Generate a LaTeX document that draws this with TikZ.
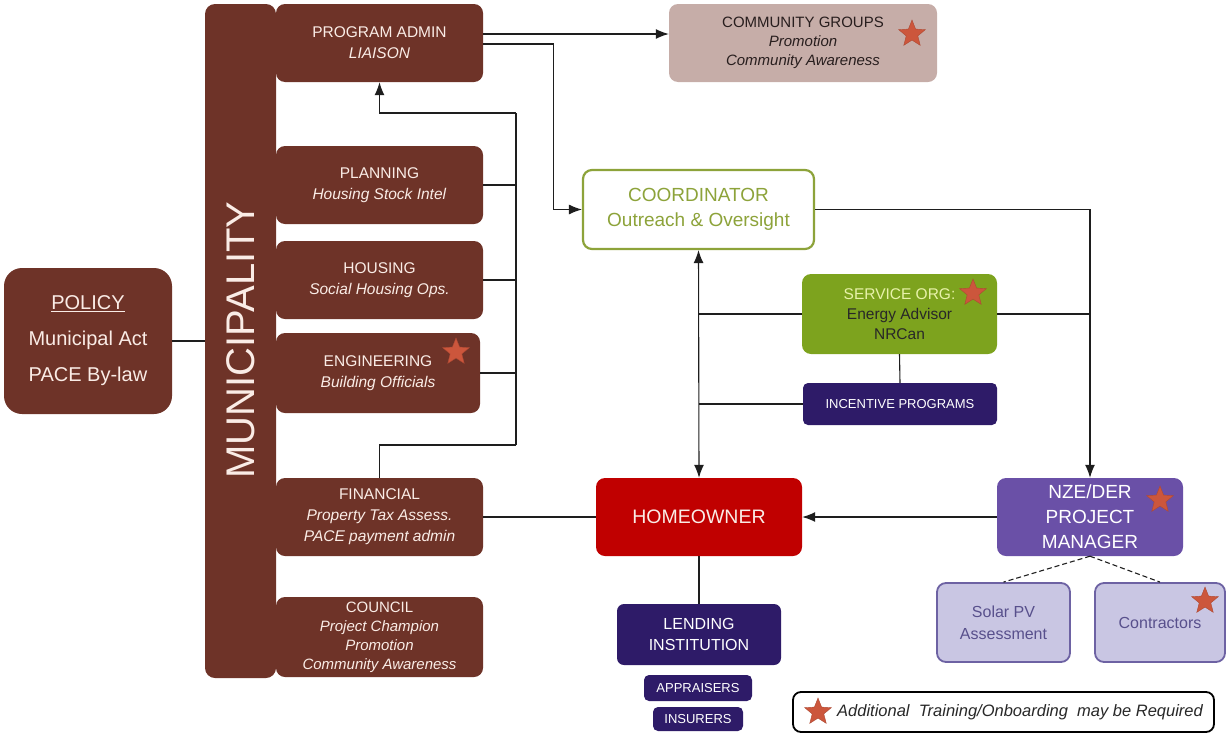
\documentclass[tikz,border=0pt]{standalone}
\usepackage{fontspec}
\setmainfont{Liberation Sans}
\usetikzlibrary{shapes.geometric,arrows.meta,calc}
\definecolor{brownc}{RGB}{110,51,40}
\definecolor{boxtext}{RGB}{250,236,230}
\definecolor{commc}{RGB}{198,173,168}
\definecolor{commtext}{RGB}{40,30,30}
\definecolor{coordc}{RGB}{141,163,58}
\definecolor{servc}{RGB}{125,163,30}
\definecolor{servhead}{RGB}{232,242,170}
\definecolor{indigoc}{RGB}{46,27,104}
\definecolor{homec}{RGB}{192,0,0}
\definecolor{nzec}{RGB}{106,80,167}
\definecolor{lavc}{RGB}{201,198,227}
\definecolor{lavborder}{RGB}{109,98,163}
\definecolor{lavtext}{RGB}{88,80,140}
\definecolor{starc}{RGB}{204,86,60}
\definecolor{linec}{RGB}{30,30,30}
\definecolor{legtext}{RGB}{40,40,40}
\begin{document}
\begin{tikzpicture}[x=1pt,y=-1pt,
  box/.style={rounded corners=9pt, inner sep=0pt, align=center},
  brownbox/.style={box, fill=brownc, text=boxtext, minimum width=207pt, minimum height=78pt, font=\fontsize{15.5}{21}\selectfont},
  darkbox/.style={box, fill=indigoc, text=white, rounded corners=5pt},
  lavbox/.style={box, fill=lavc, draw=lavborder, line width=1.8pt, text=lavtext, minimum width=133pt, minimum height=79pt, font=\fontsize{16}{22}\selectfont},
  conn/.style={draw=linec, line width=1.1pt},
  arr/.style={conn, -{Latex[length=13pt,width=10pt]}},
  dbl/.style={conn, {Latex[length=13pt,width=10pt]}-{Latex[length=13pt,width=10pt]}},
  starmark/.style={star, star points=5, star point ratio=2.3, fill=starc, draw=starc!85!black, line width=0.4pt, minimum size=28pt, inner sep=0pt}
]
\useasboundingbox (0,0) rectangle (1226,734);

% Municipality column
\node[box, fill=brownc, minimum width=71pt, minimum height=674pt, rounded corners=10pt] (muni) at (240.5,341) {};
\node[text=boxtext, rotate=90, font=\fontsize{40}{40}\selectfont] (munitxt) at (240.5,340) {MUNICIPALITY};

% Policy
\node[box, fill=brownc, text=boxtext, minimum width=168pt, minimum height=146pt, rounded corners=18pt, font=\fontsize{20}{36}\selectfont] (policy) at (88,341) {\underline{POLICY}\\Municipal Act\\PACE By-law};

% Municipal departments
\node[brownbox] (padmin) at (379.5,43) {PROGRAM ADMIN\\\textit{LIAISON}};
\node[brownbox] (planning) at (379.5,185) {PLANNING\\\textit{Housing Stock Intel}};
\node[brownbox] (housing) at (379.5,280) {HOUSING\\\textit{Social Housing Ops.}};
\node[brownbox, minimum width=204pt, minimum height=80pt] (engineering) at (378,373) {ENGINEERING\\\textit{Building Officials}};
\node[brownbox] (financial) at (379.5,517) {FINANCIAL\\\textit{Property Tax Assess.}\\\textit{PACE payment admin}};
\node[brownbox, minimum height=80pt, font=\fontsize{15}{19}\selectfont] (council) at (379.5,637) {COUNCIL\\\textit{Project Champion}\\\textit{Promotion}\\\textit{Community Awareness}};

% Community groups
\node[box, fill=commc, text=commtext, minimum width=268pt, minimum height=78pt, font=\fontsize{15}{19}\selectfont] (community) at (803,43) {COMMUNITY GROUPS\\\textit{Promotion}\\\textit{Community Awareness}};

% Coordinator
\node[box, fill=white, draw=coordc, line width=2.2pt, text=coordc, minimum width=231pt, minimum height=79pt, font=\fontsize{19}{25}\selectfont] (coord) at (698.5,209.5) {COORDINATOR\\Outreach \& Oversight};

% Service org and incentive
\node[box, fill=servc, text=legtext, minimum width=195pt, minimum height=80pt, font=\fontsize{15.5}{20}\selectfont] (service) at (899.5,314) {\textcolor{servhead}{SERVICE ORG:}\\Energy Advisor\\NRCan};
\node[darkbox, minimum width=194pt, minimum height=42pt, font=\fontsize{13}{15}\selectfont] (incentive) at (900,404) {INCENTIVE PROGRAMS};

% Homeowner, NZE
\node[box, fill=homec, text=boxtext, minimum width=206pt, minimum height=78pt, font=\fontsize{19.5}{24}\selectfont] (homeowner) at (699,517) {HOMEOWNER};
\node[box, fill=nzec, text=white, minimum width=186pt, minimum height=78pt, font=\fontsize{19}{25}\selectfont] (nze) at (1090,517) {NZE/DER\\PROJECT\\MANAGER};

% Lending
\node[darkbox, minimum width=164pt, minimum height=61pt, rounded corners=7pt, font=\fontsize{16}{21}\selectfont] (lending) at (699,634.5) {LENDING\\INSTITUTION};
\node[darkbox, minimum width=108pt, minimum height=26pt, font=\fontsize{13}{15}\selectfont] (appraisers) at (698,688) {APPRAISERS};
\node[darkbox, minimum width=90pt, minimum height=24pt, font=\fontsize{13}{15}\selectfont] (insurers) at (698,719) {INSURERS};

% Solar / Contractors
\node[lavbox] (solar) at (1003.5,622.5) {Solar PV\\Assessment};
\node[lavbox, minimum width=130pt] (contractors) at (1160,622.5) {Contractors};

% Legend
\node[box, draw=black, line width=1.8pt, rounded corners=8pt, fill=white, minimum width=421pt, minimum height=40pt] (legend) at (1003.5,712) {};
\node[anchor=west, inner sep=0pt, text=legtext, font=\fontsize{16.5}{18}\selectfont\itshape] (legtxt) at (837,712) {Additional\ \ Training/Onboarding\ \ may be Required};

% Connectors
\draw[arr] ([yshift=9pt]padmin.east) -- ([yshift=9pt]community.west);
\draw[arr] ([yshift=-1pt]padmin.east) -- ++(70,0) |- (coord.west);
\draw[arr] (coord.east) -| (nze.north);
\draw[dbl] (coord.south) -- (homeowner.north);
\draw[conn] (service.west) -- (coord.south |- service.west);
\draw[conn] (incentive.west) -- (coord.south |- incentive.west);
\draw[conn] (service.east) -- (nze.north |- service.east);
\draw[conn] (service.south) -- (incentive.north);
\draw[arr] (nze.west) -- (homeowner.east);
\draw[conn] (homeowner.west) -- (financial.east);
\draw[conn] (homeowner.south) -- (lending.north);
\draw[conn, dash pattern=on 5pt off 3pt] (nze.south) -- (solar.north);
\draw[conn, dash pattern=on 5pt off 3pt] (nze.south) -- (contractors.north);
\draw[conn] (policy.east) -- (muni.west);

\coordinate (busTop) at (516,113);
\coordinate (busBot) at (516,445);
\draw[arr] (busTop) -| (padmin.south);
\draw[conn] (busTop) -- (busBot);
\draw[conn] (planning.east) -- (busTop |- planning.east);
\draw[conn] (housing.east) -- (busTop |- housing.east);
\draw[conn] (engineering.east) -- (busTop |- engineering.east);
\draw[conn] (busBot) -| (financial.north);

% Stars
\node[starmark] (st1) at (912,34) {};
\node[starmark] (st2) at (456,352) {};
\node[starmark] (st3) at (973,293) {};
\node[starmark] (st4) at (1160,500) {};
\node[starmark] (st5) at (1205,601) {};
\node[starmark] (st6) at (818,712) {};
\end{tikzpicture}
\end{document}
